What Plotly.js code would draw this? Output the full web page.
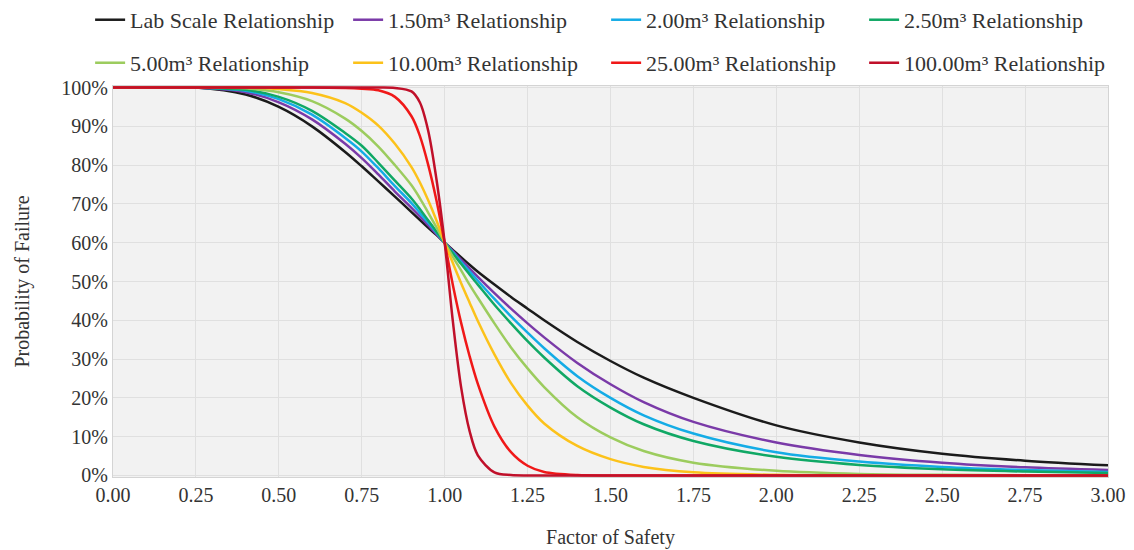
<!DOCTYPE html>
<html>
<head>
<meta charset="utf-8">
<script src="https://cdn.plot.ly/plotly-3.0.1.min.js"></script>
<style>
  html, body { margin: 0; padding: 0; background: #ffffff; }
  #chart { width: 1134px; height: 550px; }
</style>
</head>
<body>
<div id="chart"></div>
<script>
// Factor of safety sample points shared by every curve
const factorOfSafety = [0, 0.25, 0.4, 0.5, 0.6, 0.7, 0.75, 0.8, 0.85, 0.9, 0.925, 0.95, 0.975, 1.0,
  1.025, 1.05, 1.075, 1.1, 1.15, 1.2, 1.25, 1.3, 1.4, 1.5, 1.6, 1.75, 2.0, 2.25, 2.5, 2.75, 3.0];

// Probability of failure (%) for each scale
const labScale = [100, 100, 98.2, 95.0, 90.0, 83.4, 79.7, 75.8, 71.9, 67.9, 65.9, 63.9, 62.0, 60.0,
  58.1, 56.2, 54.3, 52.5, 49.2, 46.0, 43.0, 40.0, 34.4, 29.5, 25.2, 20.0, 12.9, 8.5, 5.6, 3.8, 2.6];
const vol1_50 = [100, 100, 98.8, 96.2, 91.8, 85.5, 81.8, 77.6, 73.2, 69.0, 66.8, 64.5, 62.2, 60.0,
  57.8, 55.6, 53.4, 51.2, 47.0, 43.0, 39.2, 35.6, 29.0, 23.5, 18.9, 13.8, 8.5, 5.3, 3.3, 2.1, 1.4];
const vol2_00 = [100, 100, 99.2, 97.0, 93.0, 87.0, 83.5, 79.2, 74.6, 70.2, 67.7, 65.2, 62.6, 60.0,
  57.5, 55.0, 52.6, 50.2, 45.5, 41.0, 36.8, 32.8, 25.6, 20.0, 15.5, 10.8, 6.0, 3.6, 2.2, 1.4, 0.9];
const vol2_50 = [100, 100, 99.4, 97.6, 94.0, 88.3, 85.0, 80.6, 76.0, 71.4, 68.7, 65.8, 62.9, 60.0,
  57.2, 54.5, 51.8, 49.2, 44.0, 39.2, 34.6, 30.4, 23.0, 17.5, 13.2, 8.9, 4.8, 2.7, 1.6, 1.0, 0.6];
const vol5_00 = [100, 100, 99.8, 98.8, 96.5, 92.0, 88.8, 84.8, 80.0, 74.8, 71.5, 67.8, 64.0, 60.0,
  56.3, 52.8, 49.2, 45.8, 39.2, 33.0, 27.6, 22.8, 15.0, 9.8, 6.3, 3.3, 1.2, 0.4, 0.15, 0.05, 0];
const vol10_00 = [100, 100, 100, 99.6, 98.6, 96.0, 93.5, 90.2, 85.5, 79.5, 75.6, 71.0, 65.8, 60.0,
  54.7, 49.5, 44.6, 39.8, 31.2, 23.8, 18.0, 13.4, 7.6, 4.2, 2.2, 0.8, 0.15, 0, 0, 0, 0];
const vol25_00 = [100, 100, 100, 100, 100, 99.9, 99.7, 99.3, 97.6, 92.6, 87.6, 80.2, 71.0, 60.0,
  49.0, 39.2, 30.8, 23.6, 12.6, 6.0, 2.5, 0.9, 0.1, 0, 0, 0, 0, 0, 0, 0, 0];
const vol100_00 = [100, 100, 100, 100, 100, 100, 100, 100, 99.9, 99.0, 96.2, 89.0, 76.5, 60.0,
  39.5, 22.5, 11.5, 5.2, 0.8, 0.1, 0, 0, 0, 0, 0, 0, 0, 0, 0, 0, 0];

const seriesNames = ['Lab Scale Relationship', '1.50m³ Relationship', '2.00m³ Relationship',
  '2.50m³ Relationship', '5.00m³ Relationship', '10.00m³ Relationship',
  '25.00m³ Relationship', '100.00m³ Relationship'];
const seriesValues = [labScale, vol1_50, vol2_00, vol2_50, vol5_00, vol10_00, vol25_00, vol100_00];
const seriesColors = ['#1b1b1b', '#7a3aa8', '#14ace6', '#10a865', '#9ccc5e', '#fcc21a', '#f01818', '#c0102a'];

const FONT = '"Liberation Serif", "Times New Roman", serif';
const TEXT = '#333333';

const traces = seriesValues.map((vals, i) => ({
  type: 'scatter',
  mode: 'lines',
  name: seriesNames[i],
  x: factorOfSafety,
  y: vals,
  line: { color: seriesColors[i], width: 2.5, shape: 'spline', smoothing: 0.9 },
  legend: i < 4 ? 'legend' : 'legend2',
  hoverinfo: 'skip'
}));

const legendBase = {
  orientation: 'h',
  xanchor: 'left',
  yanchor: 'middle',
  x: -0.023,
  entrywidth: 213,
  entrywidthmode: 'pixels',
  bgcolor: 'rgba(0,0,0,0)',
  borderwidth: 0,
  font: { family: FONT, size: 22, color: TEXT },
  traceorder: 'normal',
  itemclick: false,
  itemdoubleclick: false
};

const layout = {
  width: 1134,
  height: 550,
  margin: { l: 113, r: 26, t: 86, b: 73, autoexpand: false },
  paper_bgcolor: '#ffffff',
  plot_bgcolor: '#f2f2f2',
  font: { family: FONT, size: 20, color: TEXT },
  showlegend: true,
  legend: Object.assign({}, legendBase, { y: 1.169 }),
  legend2: Object.assign({}, legendBase, { y: 1.059 }),
  xaxis: {
    range: [0, 3],
    tick0: 0,
    dtick: 0.25,
    tickformat: '.2f',
    showgrid: true,
    gridcolor: '#e0e0e0',
    gridwidth: 1,
    zeroline: false,
    showline: true,
    linecolor: '#d4d4d4',
    mirror: true,
    ticks: '',
    tickfont: { family: FONT, size: 20, color: TEXT },
    title: { text: 'Factor of Safety', font: { family: FONT, size: 20, color: TEXT }, standoff: 24 }
  },
  yaxis: {
    range: [-0.4, 100.4],
    tick0: 0,
    dtick: 10,
    ticksuffix: '%',
    showgrid: true,
    gridcolor: '#e0e0e0',
    gridwidth: 1,
    zeroline: false,
    showline: true,
    linecolor: '#d4d4d4',
    mirror: true,
    ticks: '',
    tickfont: { family: FONT, size: 20, color: TEXT },
    title: { text: 'Probability of Failure', font: { family: FONT, size: 20, color: TEXT }, standoff: 26 }
  }
};

Plotly.newPlot('chart', traces, layout, { staticPlot: true, displayModeBar: false });
</script>
</body>
</html>
